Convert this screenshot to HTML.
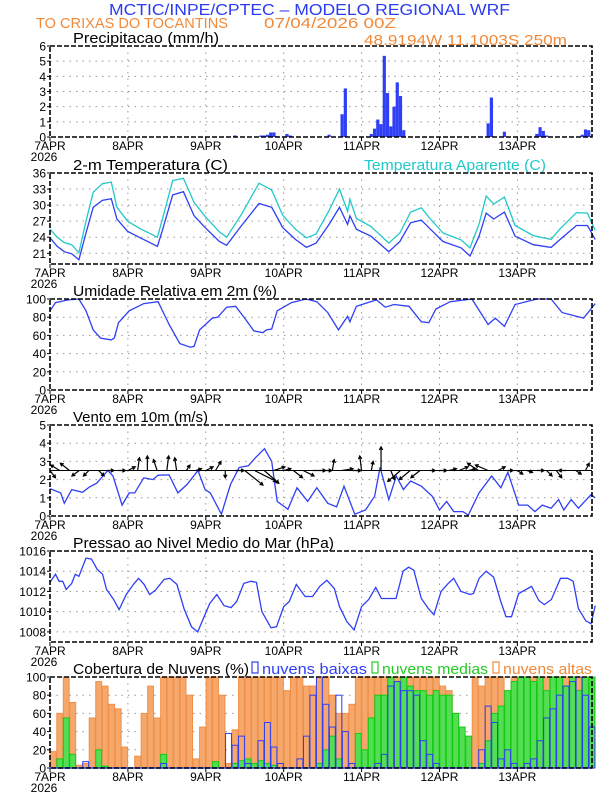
<!DOCTYPE html>
<html><head><meta charset="utf-8">
<style>
html,body{margin:0;padding:0;background:#fff;}
svg{display:block;font-family:"Liberation Sans",sans-serif;}
</style></head>
<body>
<svg id="chart" width="612" height="792" viewBox="0 0 612 792" xmlns="http://www.w3.org/2000/svg">
<text x="109" y="15" font-size="16" fill="#2a3cf0" textLength="401" lengthAdjust="spacingAndGlyphs">MCTIC/INPE/CPTEC – MODELO REGIONAL WRF</text>
<text x="36" y="28" font-size="15" fill="#f08a3a" textLength="192" lengthAdjust="spacingAndGlyphs">TO CRIXAS DO TOCANTINS</text>
<text x="264" y="28" font-size="15" fill="#f08a3a" textLength="132" lengthAdjust="spacingAndGlyphs">07/04/2026 00Z</text>
<text x="364" y="45" font-size="15" fill="#f08a3a" textLength="203" lengthAdjust="spacingAndGlyphs">48.9194W 11.1003S 250m</text>
</svg>
<script>
// ---------- DATA ----------
const dayLabels = ["7APR","8APR","9APR","10APR","11APR","12APR","13APR"];
const precipHours = [57,65,66,67,68,69,70,73,74,86,90,91,99,100,101,102,103,104,105,106,107,108,109,135,136,140,150,151,152,153,164,165,166];
const precipValues = [0.1,0.1,0.1,0.15,0.3,0.3,0.05,0.2,0.1,0.15,1.5,3.2,0.2,0.55,1.15,0.85,5.35,2.9,0.7,2.0,3.6,2.7,0.45,0.9,2.6,0.35,0.2,0.65,0.4,0.1,0.15,0.5,0.45];
const tempHours = [0,2.2,4.4,6.7,8.9,11.1,13.3,16.1,18.9,20.6,23.9,27.8,33.1,34.4,37.8,41.1,44.4,47.8,52.2,54.4,58.9,64.4,68.3,71.7,75.6,79,82,86,89.2,91.7,92.4,94.4,98.9,104.4,107.8,111.1,114.4,117.2,121.1,126.7,129.4,132.2,134.4,136.7,140,143.3,148.9,154.4,157.2,162.2,165.6,168];
const tempValues = [23.9,22.3,21.3,20.9,19.8,24.8,29.6,30.9,31.2,27.4,25.1,23.9,22.3,24.8,31.9,32.5,28,25.8,23.2,22.5,26.1,30.3,29.6,25.8,23.6,22.1,22.9,26.4,29.6,26.4,28,25.5,24.2,21.3,23.2,26.7,27.2,25.5,23.2,22,20.5,24.2,28.5,27.4,28.7,24.2,22.6,22.1,23.6,26.2,26.2,23.6];
const apparentValues = [25.5,24,23.0,22.6,21.1,27.0,32.4,34.0,34.3,29.6,27.0,25.6,24.0,26.8,34.6,35.0,30.5,27.9,25.0,24.0,28.2,34.1,32.8,28.1,25.5,23.9,24.6,29,33.0,28.8,31.1,27.5,26.0,22.9,24.8,28.7,29.5,27.4,24.8,23.5,22.0,26.5,31.7,30.2,31.5,26.2,24.3,23.6,25.6,28.6,28.5,25.3];
const rhHours = [0,1.7,5.6,8.9,11.1,13.3,15.6,18.9,19.8,21.1,24.4,28.9,33.3,36.7,40,43.3,44.4,46.1,50,51.7,54.4,57.2,60,62.8,65.6,66.7,68.3,70,74.4,78.9,82.2,85.6,88.9,91.7,92.4,94.4,100.6,103.3,106,110.6,114.4,116.7,118.9,123.3,130,135,137.2,140,143.3,150,154.4,157.8,164.4,168];
const rhValues = [87,96,99,100,87,66,57,55,57,74,87,95,97,72,51,47,48,66,79,80,91,92,79,65,63,66,67,87,96,100,97,85,66,81,75,92,99,91,94,92,75,74,89,97,100,72,79,70,94,100,100,85,79,95];
const windHours = [0,3.3,4.4,6.7,10,12.2,14.4,17.8,19.4,22.2,24.4,26.1,28.9,31.7,33.3,36.7,39.4,42.2,45.6,47.8,49.4,52.8,55.6,58.3,61.1,63.3,66.1,68.3,70,73.3,76.1,79.4,82.2,85.6,88.3,90.6,93.9,97.2,100,101.7,104.4,106.7,108.9,111.1,114.4,117.8,120,122.2,124.4,127.2,128.9,132.2,136.1,138.9,141.1,144.4,147.2,149.4,151.7,154.4,156.7,158.3,160.6,162.8,166.7,168];
const windValues = [1.5,1.27,0.7,1.45,1.3,1.6,1.8,2.5,2.2,0.6,1.27,1.27,2.1,2.0,2.24,2.26,1.27,1.73,2.5,1.45,1.27,0.1,1.73,2.67,2.76,3.2,3.7,3.0,0.8,0.37,1.55,0.8,1.55,0.7,0.5,1.64,0.1,0.33,1.08,2.67,0.9,2.2,1.45,1.92,1.64,1.08,0.33,0.8,0.24,0.24,0.05,1.27,2.2,1.55,2.4,0.6,0.6,0.24,0.6,0.43,0.9,0.33,0.9,0.43,1.17,1.0];
const arrowHours = [0,3,6,9,12,15,18,21,24,27,30,33,36,39,42,45,48,51,54,57,60,63,66,69,72,75,78,81,84,87,90,93,96,99,102,105,108,111,114,117,120,123,126,129,132,135,138,141,144,147,150,153,156,159,162,165];
const arrowU = [0.3,-0.5,-0.5,-0.4,-0.3,0.3,0.3,0.4,0.4,0.1,0,-0.2,0.1,-0.1,0.2,0.3,0.4,0.3,0,0.5,1.0,1.2,0.8,0.6,0.4,0.5,0.6,0.7,0.5,0.1,0.6,0.5,-0.1,0.1,0,0.2,-0.7,-0.6,-0.5,0.3,0.4,0.4,0.5,0.4,-0.6,-0.7,0.4,0.3,0.3,0.3,0.4,0.3,0.3,-0.4,0.3,0.2];
const arrowV = [-0.4,0.3,0.4,-0.3,-0.3,-0.3,0,0,0.2,0.7,0.8,0.6,0.8,0.7,0.3,0.1,0.2,0.5,-0.4,0,-0.8,-0.6,-0.7,0.2,0.1,-0.4,-0.3,0,0,0.6,0.1,0,0.8,0.5,1.3,-0.5,-0.6,-0.5,-0.4,0,0,0.1,0.2,0.1,0.4,0.3,0.2,0,-0.2,-0.1,0,-0.3,-0.4,0,-0.2,0.4];
const presHours = [0,1.7,2.8,3.9,5,6.7,7.8,8.9,11.1,12.8,14.5,16.2,17.4,19.6,21.3,23.5,25.7,27.3,29,30.7,32.4,35.2,36.9,39.1,41.3,43.6,45.5,49.2,51.4,53.6,55.8,57.5,59.7,61.9,63.6,65.3,68.1,69.8,72,73.7,75.9,78.6,80.9,83.1,85.3,87.6,89.2,91.5,93.7,96,98.2,100.4,102.1,104.9,106.6,108.8,110.5,112.1,114.4,116.6,118.3,120.5,122.7,124.4,126.6,129.4,130.5,132.2,134.4,136.7,138.9,140.5,142.2,144.4,148.4,150.6,152.3,154.5,157.3,159.5,161.2,162.8,165.1,166.7,168];
const presValues = [1012.9,1013.7,1013,1013,1012.2,1012.8,1013.7,1013.5,1015.3,1015.2,1014.2,1013.7,1012.2,1011.2,1010.2,1011.7,1012.7,1013.3,1012.7,1011.7,1012.1,1013.2,1013.3,1012.7,1010.3,1008.5,1008,1010.8,1011.7,1010.6,1010.4,1011,1012.8,1013,1012.9,1010,1008.4,1008.5,1010.5,1011,1012.7,1011.5,1011.5,1012.5,1013.1,1012.3,1010.5,1009,1008.2,1010.5,1011.2,1012.4,1011.3,1011.3,1011.3,1014,1014.4,1014.1,1011.3,1010.3,1009.7,1012,1012.8,1013.3,1012,1011.7,1011.8,1013.3,1014,1013.4,1011,1009.5,1009.5,1011.8,1012.5,1011.1,1010.7,1011.2,1013.3,1013.3,1013,1010.3,1009.1,1008.8,1010.6];
// cloud cover in 2-hour bins (h = 0,2,...,166)
const cloudHigh = [18,60,100,72,3,5,55,95,90,70,65,23, 0,13,60,90,55,100,100,100,100,80,10,45, 100,100,80,5,42,100,100,100,100,100,100,100, 85,100,100,90,90,100,100,80,60,60,70,100, 100,100,100,100,100,100,100,100,100,100,100,100, 90,85,60,25,30,100,90,100,100,100,85,100, 100,100,100,100,100,100,100,100,100,100,100,100];
const cloudMid = [0,10,55,15,0,0,0,20,2,0,0,0, 0,0,0,0,0,15,0,0,0,0,0,0, 0,7,0,0,5,8,10,5,8,5,3,0, 0,0,0,0,0,5,20,35,10,0,0,38, 20,55,80,80,100,95,100,90,85,85,80,85, 80,80,60,45,35,0,5,30,60,68,85,95, 100,100,95,100,85,100,100,90,100,85,100,100];
const cloudLow = [0,0,0,0,0,7,0,0,0,0,0,0, 0,0,0,0,0,5,0,0,0,0,0,0, 0,0,0,38,25,35,5,0,30,50,23,5, 0,0,10,35,80,100,70,45,80,40,5,0, 0,0,5,15,90,95,85,85,80,30,15,5, 0,0,0,0,0,0,20,68,50,10,20,5, 0,5,10,30,55,65,80,90,95,100,80,45];

// ---------- LAYOUT ----------
const NS = "http://www.w3.org/2000/svg";
const svg = document.getElementById("chart");
const X0 = 50, X1 = 592, TOTALH = 167;
const PH = 91;
const BLUE = "#2f3ff5", CYAN = "#22c8c8", ORANGE = "#f08a3a";
function xs(h){ return X0 + h * (X1 - X0) / TOTALH; }
function mk(tag, attrs){ const e = document.createElementNS(NS, tag); for (const k in attrs) e.setAttribute(k, attrs[k]); svg.appendChild(e); return e; }
function yScale(top, min, max){ return v => top + PH - (v - min) / (max - min) * PH; }

function panel(top, min, max, ticks, name, title, titleLen){
  const ys = yScale(top, min, max);
  ticks.forEach(t => {
    if (t > min && t < max) {
      const g = mk("line", {x1:X0, x2:X1, y1:ys(t), y2:ys(t), stroke:"#999", "stroke-width":1, "stroke-dasharray":"1.5,5"});
      
      
    }
    const tl = mk("text", {x:X0-4, y:ys(t)+4.5, "text-anchor":"end", "font-size":12, fill:"#000"});
    tl.textContent = t;
    
    
    const tk = mk("line", {x1:X0-3, x2:X0, y1:ys(t), y2:ys(t), stroke:"#000"});
    
    
  });
  dayLabels.forEach((d, i) => {
    const x = xs(i * 24);
    if (i > 0) {
      const g = mk("line", {x1:x, x2:x, y1:top, y2:top+PH, stroke:"#999", "stroke-width":1, "stroke-dasharray":"1.5,5"});
      
      
    }
    const tk = mk("line", {x1:x, x2:x, y1:top+PH, y2:top+PH+4, stroke:"#000"});
    
    
    const lb = mk("text", {x:x, y:top+PH+13, "text-anchor":"middle", "font-size":12, fill:"#000"});
    lb.textContent = d;
    
    
  });
  const yr = mk("text", {x:X0-6, y:top+PH+24, "text-anchor":"middle", "font-size":12, fill:"#000"});
  yr.textContent = "2026";
  
  
  if (title) {
    const tt = mk("text", {x:73, y:top-3, "font-size":15, fill:"#000", textLength:titleLen, lengthAdjust:"spacingAndGlyphs"});
    tt.textContent = title;
    
    
  }
  return ys;
}
function frame(top, name){
  const f = mk("rect", {x:X0, y:top, width:X1-X0, height:PH, fill:"none", stroke:"#000", "stroke-width":1.6, "stroke-dasharray":"5,2"});
  
  
}
function line(hours, vals, ys, color, name){
  const d = hours.map((h, i) => (i ? "L" : "M") + xs(h).toFixed(1) + "," + ys(vals[i]).toFixed(1)).join("");
  const p = mk("path", {d:d, fill:"none", stroke:color, "stroke-width":1.3});
  
  
}

// Panel 1: precipitation
const T1 = 46;
const yP = panel(T1, 0, 6, [0,1,2,3,4,5,6], "precip", "Precipitacao (mm/h)", 146);
precipHours.forEach((h, i) => {
  const b = mk("rect", {x:xs(h)-1.6, y:yP(precipValues[i]), width:3.2, height:yP(0)-yP(precipValues[i]), fill:BLUE});
  
  
});
frame(T1, "precip");

// Panel 2: temperature
const T2 = 173;
const yT = panel(T2, 19, 36, [21,24,27,30,33,36], "temperature", "2-m Temperatura (C)", 155);
const ta = mk("text", {x:364, y:T2-3, "font-size":15, fill:CYAN, textLength:182, lengthAdjust:"spacingAndGlyphs"});
ta.textContent = "Temperatura Aparente (C)";


line(tempHours, apparentValues, yT, CYAN, "apparent-temperature-line");
line(tempHours, tempValues, yT, BLUE, "temperature-line");
frame(T2, "temperature");

// Panel 3: humidity
const T3 = 299;
const yH = panel(T3, 0, 100, [0,20,40,60,80,100], "humidity", "Umidade Relativa em 2m (%)", 204);
line(rhHours, rhValues, yH, BLUE, "humidity-line");
frame(T3, "humidity");

// Panel 4: wind
const T4 = 425;
const yW = panel(T4, 0, 5, [0,1,2,3,4,5], "wind", "Vento em 10m (m/s)", 135);
line(windHours, windValues, yW, BLUE, "wind-speed-line");
const ppu = PH / 5;
arrowHours.forEach((h, i) => {
  const x0 = xs(h), y0 = yW(2.5);
  const x1 = x0 + arrowU[i] * ppu, y1 = y0 - arrowV[i] * ppu;
  const ang = Math.atan2(y1 - y0, x1 - x0);
  const hl = 3.5;
  const d = `M${x0},${y0}L${x1},${y1}M${x1 - hl*Math.cos(ang-0.5)},${y1 - hl*Math.sin(ang-0.5)}L${x1},${y1}L${x1 - hl*Math.cos(ang+0.5)},${y1 - hl*Math.sin(ang+0.5)}`;
  const a = mk("path", {d:d, stroke:"#000", "stroke-width":1.2, fill:"none"});
  
  
});
const wl = mk("line", {x1:X0, x2:X1, y1:yW(2.5), y2:yW(2.5), stroke:"#000", "stroke-width":1});


frame(T4, "wind");

// Panel 5: pressure
const T5 = 551;
const yPr = panel(T5, 1007, 1016, [1008,1010,1012,1014,1016], "pressure", "Pressao ao Nivel Medio do Mar (hPa)", 261);
line(presHours, presValues, yPr, BLUE, "pressure-line");
frame(T5, "pressure");

// Panel 6: clouds
const T6 = 677;
const yC = panel(T6, 0, 100, [0,20,40,60,80,100], "clouds", "Cobertura de Nuvens (%)", 176);
const bw = xs(2) - xs(0);
function cloudBars(vals, fill, stroke, name){
  vals.forEach((v, i) => {
    if (v <= 0) return;
    const b = mk("rect", {x:xs(i*2)+0.3, y:yC(v), width:bw-0.6, height:yC(0)-yC(v), fill:fill, stroke:stroke, "stroke-width":1});
    
    
  });
}
cloudBars(cloudHigh, "#f6a86c", "#f09048", "cloud-high-bar");
cloudBars(cloudMid, "#55dd55", "#11cc11", "cloud-mid-bar");
cloudBars(cloudLow, "none", BLUE, "cloud-low-bar");
const base = mk("line", {x1:X0, x2:X1, y1:yC(0), y2:yC(0), stroke:BLUE, "stroke-width":1.5});


frame(T6, "clouds");

// cloud legend
const legendItems = [["nuvens baixas", BLUE, 252, 105], ["nuvens medias", "#22cc22", 372, 106], ["nuvens altas", ORANGE, 493, 89]];
legendItems.forEach(it => {
  const r = mk("rect", {x:it[2], y:T6-15, width:6, height:11, fill:"none", stroke:it[1], "stroke-width":1.2});
  
  
  const t = mk("text", {x:it[2]+10, y:T6-3, "font-size":15, fill:it[1], textLength:it[3], lengthAdjust:"spacingAndGlyphs"});
  t.textContent = it[0];
  
  
});
</script>
</body></html>
